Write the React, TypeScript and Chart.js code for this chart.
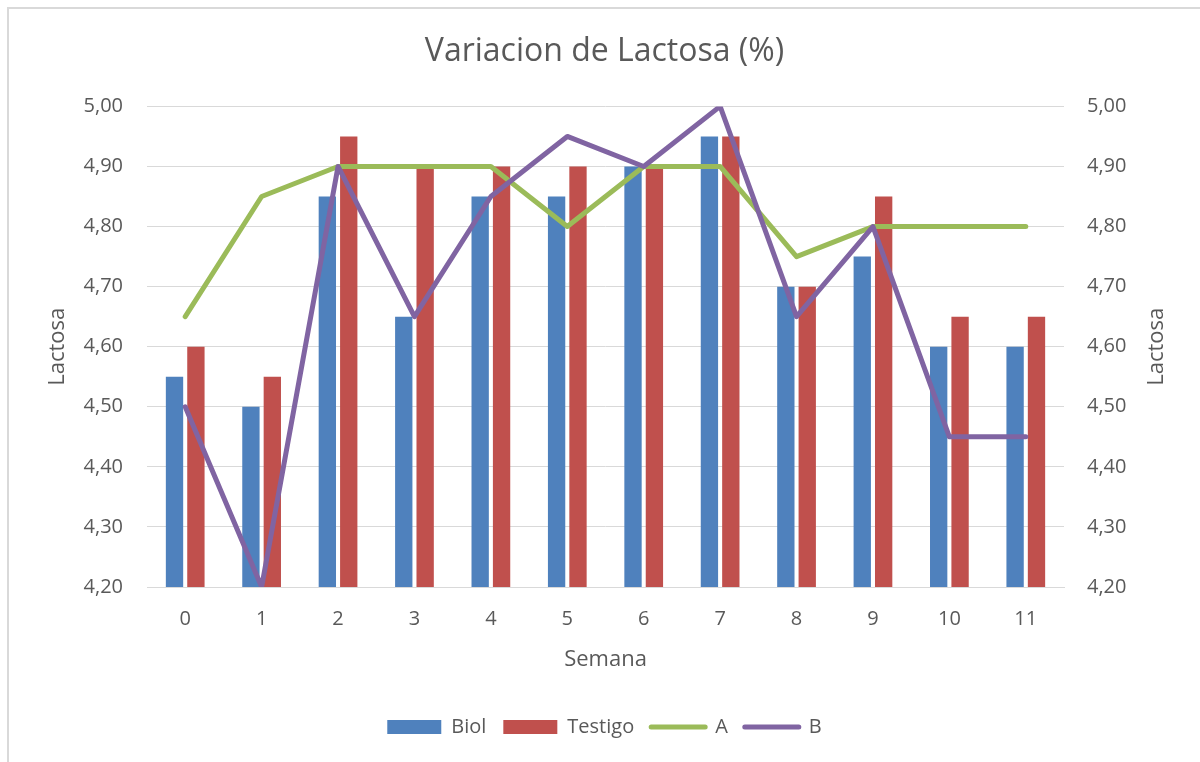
import React, { useEffect, useRef } from "react";
import { Chart, registerables } from "chart.js";

Chart.register(...registerables);

const chartTitle = "Variacion de Lactosa (%)";
const xAxisTitle = "Semana";
const yAxisTitle = "Lactosa";

const semanas = ["0", "1", "2", "3", "4", "5", "6", "7", "8", "9", "10", "11"];
const biol = [4.55, 4.5, 4.85, 4.65, 4.85, 4.85, 4.9, 4.95, 4.7, 4.75, 4.6, 4.6];
const testigo = [4.6, 4.55, 4.95, 4.9, 4.9, 4.9, 4.9, 4.95, 4.7, 4.85, 4.65, 4.65];
const serieA = [4.65, 4.85, 4.9, 4.9, 4.9, 4.8, 4.9, 4.9, 4.75, 4.8, 4.8, 4.8];
const serieB = [4.5, 4.2, 4.9, 4.65, 4.85, 4.95, 4.9, 5.0, 4.65, 4.8, 4.45, 4.45];

const yMin = 4.2;
const yMax = 5.0;
const yStep = 0.1;

const FONT = '"Open Sans", "Noto Sans", sans-serif';
const TEXT = "#595959";
const GRID = "#d9d9d9";

const fmt = (v: number | string) => Number(v).toFixed(2).replace(".", ",");

const rightTitlePlugin = {
  id: "rightTitle",
  afterDraw(chart: any) {
    const s = chart.scales.y1;
    if (!s) return;
    const ctx = chart.ctx;
    ctx.save();
    ctx.font = `22px ${FONT}`;
    ctx.fillStyle = TEXT;
    ctx.textAlign = "center";
    ctx.textBaseline = "middle";
    ctx.translate(s.right - 43, (s.top + s.bottom) / 2);
    ctx.rotate(-Math.PI / 2);
    ctx.fillText(yAxisTitle, 0, 0);
    ctx.restore();
  },
};

export default function App() {
  const ref = useRef<HTMLCanvasElement | null>(null);

  useEffect(() => {
    document.body.style.overflow = "hidden";
    if (!ref.current) return;
    const chart = new Chart(ref.current, {
      type: "bar",
      data: {
        labels: semanas,
        datasets: [
          {
            type: "bar",
            label: "Biol",
            data: biol,
            backgroundColor: "#4F81BD",
            borderWidth: 0,
            order: 2,
            yAxisID: "y",
            categoryPercentage: 0.56,
            barPercentage: 0.81,
          } as any,
          {
            type: "bar",
            label: "Testigo",
            data: testigo,
            backgroundColor: "#C0504D",
            borderWidth: 0,
            order: 3,
            yAxisID: "y",
            categoryPercentage: 0.56,
            barPercentage: 0.81,
          } as any,
          {
            type: "line",
            label: "A",
            data: serieA,
            borderColor: "#9BBB59",
            backgroundColor: "#9BBB59",
            borderWidth: 5,
            borderCapStyle: "round",
            borderJoinStyle: "round",
            pointRadius: 0,
            tension: 0,
            fill: false,
            order: 1,
            yAxisID: "y1",
          } as any,
          {
            type: "line",
            label: "B",
            data: serieB,
            borderColor: "#8064A2",
            backgroundColor: "#8064A2",
            borderWidth: 5,
            borderCapStyle: "round",
            borderJoinStyle: "round",
            pointRadius: 0,
            tension: 0,
            fill: false,
            order: 0,
            yAxisID: "y1",
          } as any,
        ],
      },
      options: {
        responsive: false,
        animation: false,
        layout: { padding: { left: 0, right: 0, top: 0, bottom: 15 } },
        plugins: {
          title: {
            display: true,
            text: chartTitle,
            color: TEXT,
            font: { family: FONT, size: 32, weight: "normal" },
            padding: { top: 24, bottom: 35 },
          },
          legend: {
            display: true,
            position: "bottom",
            labels: {
              color: TEXT,
              font: { family: FONT, size: 20 },
              usePointStyle: true,
              pointStyleWidth: 54,
              boxHeight: 14,
              padding: 17,
              sort: (a: any, b: any) => a.datasetIndex - b.datasetIndex,
              generateLabels: (chart: any) => {
                return chart.data.datasets.map((ds: any, i: number) => {
                  const isLine = ds.type === "line";
                  return {
                    text: ds.label,
                    datasetIndex: i,
                    fillStyle: isLine ? "rgba(0,0,0,0)" : ds.backgroundColor,
                    strokeStyle: isLine ? ds.borderColor : ds.backgroundColor,
                    lineWidth: isLine ? 5 : 0,
                    lineCap: "round",
                    pointStyle: isLine ? "line" : "rect",
                    fontColor: TEXT,
                    hidden: false,
                  };
                });
              },
            },
          },
          tooltip: { enabled: false },
        },
        scales: {
          x: {
            grid: { display: false, drawTicks: false },
            border: { display: true, color: GRID },
            ticks: {
              color: TEXT,
              font: { family: FONT, size: 20 },
              padding: 20,
              maxRotation: 0,
            },
            title: {
              display: true,
              text: xAxisTitle,
              color: TEXT,
              font: { family: FONT, size: 22 },
              padding: { top: 13, bottom: 27 },
            },
            afterFit: (s: any) => {
              s.height = 113;
            },
          },
          y: {
            position: "left",
            min: yMin,
            max: yMax,
            grid: { color: GRID, lineWidth: 1, drawTicks: false },
            border: { display: false },
            ticks: {
              stepSize: yStep,
              color: TEXT,
              font: { family: FONT, size: 20 },
              padding: 24,
              callback: (v: any) => fmt(v),
            },
            title: {
              display: true,
              text: yAxisTitle,
              color: TEXT,
              font: { family: FONT, size: 22 },
              padding: { top: 36, bottom: 0 },
            },
            afterFit: (s: any) => {
              s.width = 138;
            },
          },
          y1: {
            position: "right",
            min: yMin,
            max: yMax,
            grid: { drawOnChartArea: false, drawTicks: false },
            border: { display: false },
            ticks: {
              stepSize: yStep,
              color: TEXT,
              font: { family: FONT, size: 20 },
              padding: 23,
              callback: (v: any) => fmt(v),
            },
            afterFit: (s: any) => {
              s.width = 136;
            },
          },
        },
      } as any,
      plugins: [rightTitlePlugin],
    });
    return () => chart.destroy();
  }, []);

  return (
    <div
      style={{
        position: "fixed",
        left: 7,
        top: 7,
        width: 1300,
        height: 900,
        borderLeft: "2px solid #d9d9d9",
        borderTop: "2px solid #d9d9d9",
        background: "#ffffff",
      }}
    >
      <canvas ref={ref} width={1191} height={753} style={{ display: "block" }} />
    </div>
  );
}
